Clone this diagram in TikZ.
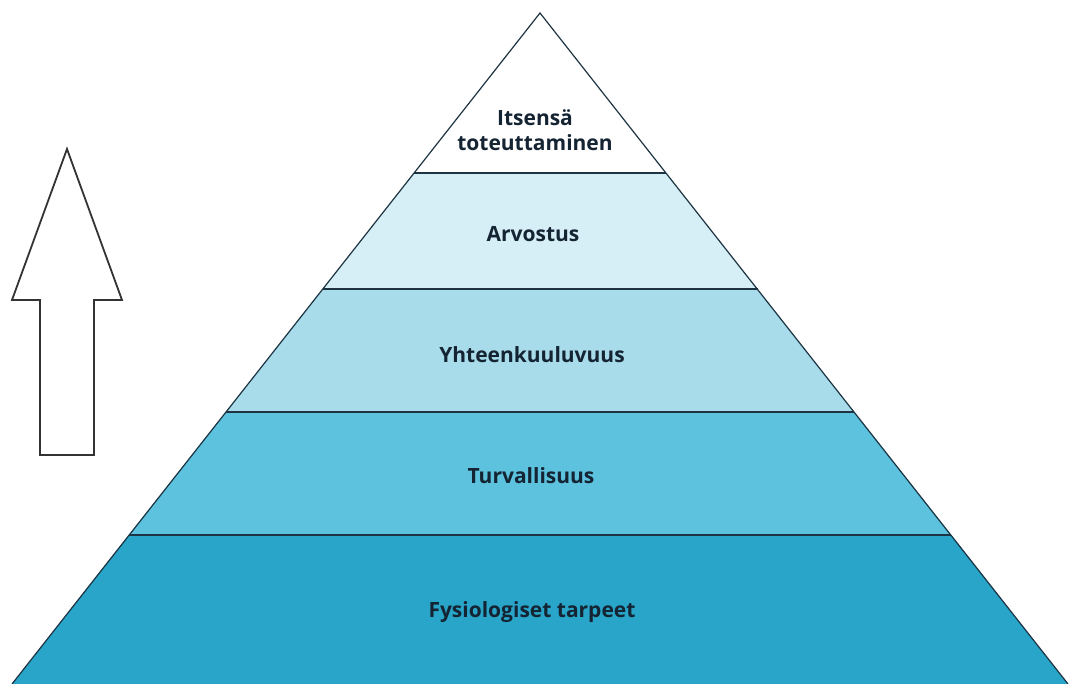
\documentclass[tikz,border=0pt]{standalone}
\usepackage{fontspec}
\setmainfont{Open Sans}
\definecolor{bandA}{HTML}{D6EEF5}
\definecolor{bandB}{HTML}{A9DCEB}
\definecolor{bandC}{HTML}{5DC2DE}
\definecolor{bandD}{HTML}{28A5C8}
\definecolor{inkc}{HTML}{142433}
\definecolor{linec}{HTML}{1E3442}
\begin{document}
\begin{tikzpicture}[x=1pt,y=-1pt,
  lbl/.style={font=\fontsize{21}{25}\selectfont\bfseries, text=inkc, align=center, inner sep=0pt},
  sep/.style={draw=linec, line width=1.6pt},
  edge/.style={draw=linec, line width=1.2pt},
  arrowshape/.style={draw=black!80, line width=1.8pt, fill=white, line join=miter}]
\useasboundingbox (0,0) rectangle (1070,684);
% key points
\coordinate (A) at (540,13);
\coordinate (L) at (12,684);
\coordinate (R) at (1068,684);
\coordinate (l1) at (413.9,173); \coordinate (r1) at (666.1,173);
\coordinate (l2) at (322.5,289); \coordinate (r2) at (757.5,289);
\coordinate (l3) at (225.6,412); \coordinate (r3) at (854.4,412);
\coordinate (l4) at (128.6,535); \coordinate (r4) at (951.4,535);
% fills
\fill[white] (A) -- (l1) -- (r1) -- cycle;
\fill[bandA] (l1) -- (l2) -- (r2) -- (r1) -- cycle;
\fill[bandB] (l2) -- (l3) -- (r3) -- (r2) -- cycle;
\fill[bandC] (l3) -- (l4) -- (r4) -- (r3) -- cycle;
\fill[bandD] (l4) -- (L) -- (R) -- (r4) -- cycle;
% separators
\draw[sep] (l1) -- (r1);
\draw[sep] (l2) -- (r2);
\draw[sep] (l3) -- (r3);
\draw[sep] (l4) -- (r4);
% outline
\draw[edge] (L) -- (A) -- (R);
% labels
\node[lbl] (t1) at (535,130) {Itsensä\\toteuttaminen};
\node[lbl] (t2) at (533,234) {Arvostus};
\node[lbl] (t3) at (532,355) {Yhteenkuuluvuus};
\node[lbl] (t4) at (531,476) {Turvallisuus};
\node[lbl] (t5) at (532,612) {Fysiologiset tarpeet};
% arrow
\draw[arrowshape] (67,149) -- (122,300) -- (94,300) -- (94,455) -- (40,455) -- (40,300) -- (12,300) -- cycle;
\end{tikzpicture}
\end{document}
